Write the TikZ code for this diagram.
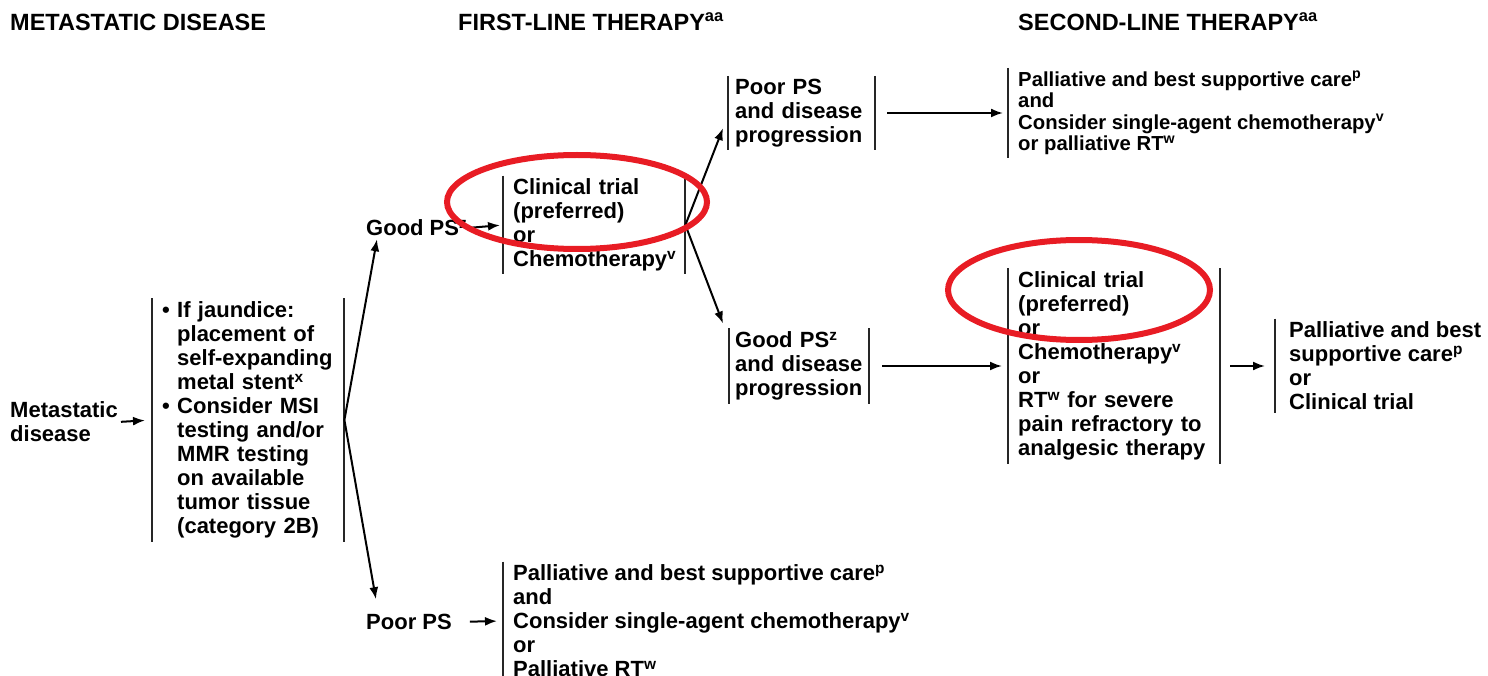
\documentclass[tikz,border=0pt]{standalone}
\usepackage{fontspec}
\setmainfont{Liberation Sans}
\usetikzlibrary{calc,arrows.meta}
\definecolor{ringred}{RGB}{232,28,36}

\begin{document}
\begin{tikzpicture}[x=1pt, y=-1pt,
		txt/.style={inner xsep=10pt, inner ysep=3pt, align=left, anchor=west, font=\fontsize{22}{24}\selectfont\bfseries},
		hdr/.style={inner sep=0pt, anchor=west, font=\fontsize{23.5}{25}\selectfont\bfseries},
		bar/.style={line width=2pt, color=black!85},
		arr/.style={line width=2pt, -{Latex[length=12pt,width=9pt]}},
		ring/.style={line width=6pt, color=ringred}]
		%%%%% START %%%%%
		
		\useasboundingbox (0,0) rectangle (1488,676);
		
		\node[hdr] (hmeta) at (10,22) {METASTATIC DISEASE};
		\node[hdr] (hfirst) at (458,22) {FIRST-LINE THERAPY\textsuperscript{aa}};
		\node[hdr] (hsecond) at (1018,22) {SECOND-LINE THERAPY\textsuperscript{aa}};
		
		\node[txt, inner xsep=0pt] (meta) at (10,422) {Metastatic\\disease};
		\node[txt, text width=172pt] (work) at (152,420) {\makebox[15pt][l]{\textbullet}If jaundice:\\\hspace*{15pt}placement of\\\hspace*{15pt}self-expanding\\\hspace*{15pt}metal stent\textsuperscript{x}\\\makebox[15pt][l]{\textbullet}Consider MSI\\\hspace*{15pt}testing and/or\\\hspace*{15pt}MMR testing\\\hspace*{15pt}on available\\\hspace*{15pt}tumor tissue\\\hspace*{15pt}(category 2B)};
		
		\node[txt, inner xsep=0pt] (goodps) at (366,228) {Good PS\textsuperscript{z}};
		\node[txt, inner xsep=0pt] (poorps) at (366,622) {Poor PS};
		
		\node[txt, text width=162pt] (first) at (503,225) {Clinical trial\\(preferred)\\or\\Chemotherapy\textsuperscript{v}};
		\node[txt] (poorfirst) at (503,621) {Palliative and best supportive care\textsuperscript{p}\\and\\Consider single-agent chemotherapy\textsuperscript{v}\\or\\Palliative RT\textsuperscript{w}};
		
		\node[txt, inner xsep=7pt, text width=133pt] (poorprog) at (728,113) {Poor PS\\and disease\\progression};
		\node[txt, inner xsep=6pt, text width=128pt] (goodprog) at (729,366) {Good PS\textsuperscript{z}\\and disease\\progression};
		
		\node[txt, font=\fontsize{20.3}{21.5}\selectfont\bfseries] (poorcare) at (1008,113) {Palliative and best supportive care\textsuperscript{p}\\and\\Consider single-agent chemotherapy\textsuperscript{v}\\or palliative RT\textsuperscript{w}};
		\node[txt, text width=192pt] (second) at (1008,366) {Clinical trial\\(preferred)\\or\\Chemotherapy\textsuperscript{v}\\or\\RT\textsuperscript{w} for severe\\pain refractory to\\analgesic therapy};
		\node[txt, inner xsep=14pt] (bestcare) at (1275,366) {Palliative and best\\supportive care\textsuperscript{p}\\or\\Clinical trial};
		
		\foreach \n in {work,first,poorprog,goodprog,second} {
			\draw[bar] (\n.north west) -- (\n.south west);
			\draw[bar] (\n.north east) -- (\n.south east);
		}
		\foreach \n in {poorfirst,poorcare,bestcare}
			\draw[bar] (\n.north west) -- (\n.south west);
		
		\draw[arr, shorten <=3pt, shorten >=7pt] (meta.east) -- (work.west);
		\draw[arr] (work.east) -- ([xshift=11pt]goodps.south west);
		\draw[arr, shorten >=12pt] (work.east) -- ([xshift=12pt]poorps.north west);
		\draw[arr, shorten <=2pt, shorten >=3pt] (goodps.east) -- (first.west);
		\draw[arr, shorten <=18pt, shorten >=6pt] (poorps.east) -- (poorfirst.west);
		\draw[arr] (first.east) -- ([shift={(-5pt,22pt)}]poorprog.south west);
		\draw[arr] (first.east) -- ([shift={(-6pt,5pt)}]goodprog.north west);
		\draw[arr, shorten <=12pt, shorten >=5pt] (poorprog.east) -- (poorcare.west);
		\draw[arr, shorten <=13pt, shorten >=6pt] (goodprog.east) -- (second.west);
		\draw[arr, shorten <=10pt, shorten >=10pt] (second.east) -- (bestcare.west);
		
		\draw[ring] (577,202) ellipse [x radius=130pt, y radius=47pt];
		\draw[ring] (1079,290) ellipse [x radius=131pt, y radius=50pt];
		
		%%%%% END %%%%%
	\end{tikzpicture}
\end{document}
